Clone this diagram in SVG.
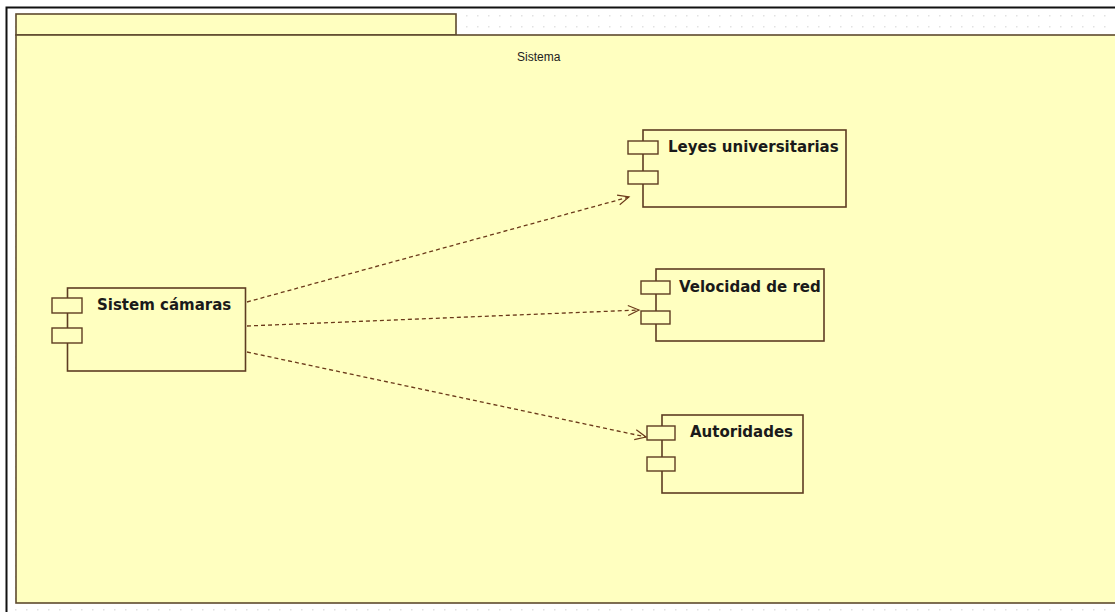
<svg xmlns="http://www.w3.org/2000/svg" width="1115" height="612" viewBox="0 0 1115 612">
  <defs>
    <pattern id="dots" x="0" y="0" width="11" height="11" patternUnits="userSpaceOnUse">
      <rect x="4" y="4" width="1.5" height="1.5" fill="#e2e2e2"/>
    </pattern>
    <marker id="open" markerWidth="14" markerHeight="12" refX="12" refY="6" orient="auto" markerUnits="userSpaceOnUse">
      <path d="M1,1 L12,6 L1,11" fill="none" stroke="#6b3a1a" stroke-width="1.2"/>
    </marker>
    <style>
      .pkg { fill: #ffffc0; stroke: #5e4a2e; stroke-width: 1.6; }
      .comp { fill: #ffffc0; stroke: #5e3d22; stroke-width: 1.6; }
      .port { fill: #ffffc0; stroke: #5e3d22; stroke-width: 1.4; }
      .lbl { font-family: "DejaVu Sans", Tahoma, sans-serif; font-weight: bold; font-size: 15px; fill: #1a1a1a; }
      .title { font-family: "Liberation Sans", Arial, sans-serif; font-size: 12px; fill: #222; }
      .dep { fill: none; stroke: #6b3a1a; stroke-width: 1.3; stroke-dasharray: 4 3; marker-end: url(#open); }
    </style>
  </defs>
  <rect x="0" y="0" width="1115" height="612" fill="#ffffff"/>
  <rect x="7" y="7" width="1115" height="612" fill="url(#dots)"/>
  <path d="M6.5,612 L6.5,7.5 L1115,7.5" fill="none" stroke="#111" stroke-width="2"/>

  <g id="package-sistema">
    <rect class="pkg" x="16" y="14" width="440" height="21"/>
    <rect class="pkg" x="16" y="35" width="1102" height="568"/>
    <text class="title" x="517" y="61">Sistema</text>
  </g>

  <g id="connectors">
    <line class="dep" x1="247" y1="302" x2="629" y2="197"/>
    <line class="dep" x1="247" y1="326" x2="639" y2="310"/>
    <line class="dep" x1="247" y1="352" x2="646" y2="437"/>
  </g>

  <g id="node-sistem-camaras">
    <rect class="comp" x="67.5" y="288" width="178" height="83"/>
    <rect class="port" x="52" y="298" width="30" height="15"/>
    <rect class="port" x="52" y="328" width="30" height="15"/>
    <text class="lbl" x="97" y="310">Sistem cámaras</text>
  </g>

  <g id="node-leyes-universitarias">
    <rect class="comp" x="643" y="130" width="203" height="77"/>
    <rect class="port" x="628" y="141" width="30" height="13"/>
    <rect class="port" x="628" y="171" width="30" height="13"/>
    <text class="lbl" x="668" y="152">Leyes universitarias</text>
  </g>

  <g id="node-velocidad-de-red">
    <rect class="comp" x="656" y="269" width="168" height="72"/>
    <rect class="port" x="641" y="281" width="29" height="13"/>
    <rect class="port" x="641" y="311" width="29" height="13"/>
    <text class="lbl" x="679" y="292">Velocidad de red</text>
  </g>

  <g id="node-autoridades">
    <rect class="comp" x="662" y="415" width="141" height="78"/>
    <rect class="port" x="647" y="426" width="28" height="14"/>
    <rect class="port" x="647" y="457" width="28" height="14"/>
    <text class="lbl" x="690" y="437">Autoridades</text>
  </g>
</svg>
